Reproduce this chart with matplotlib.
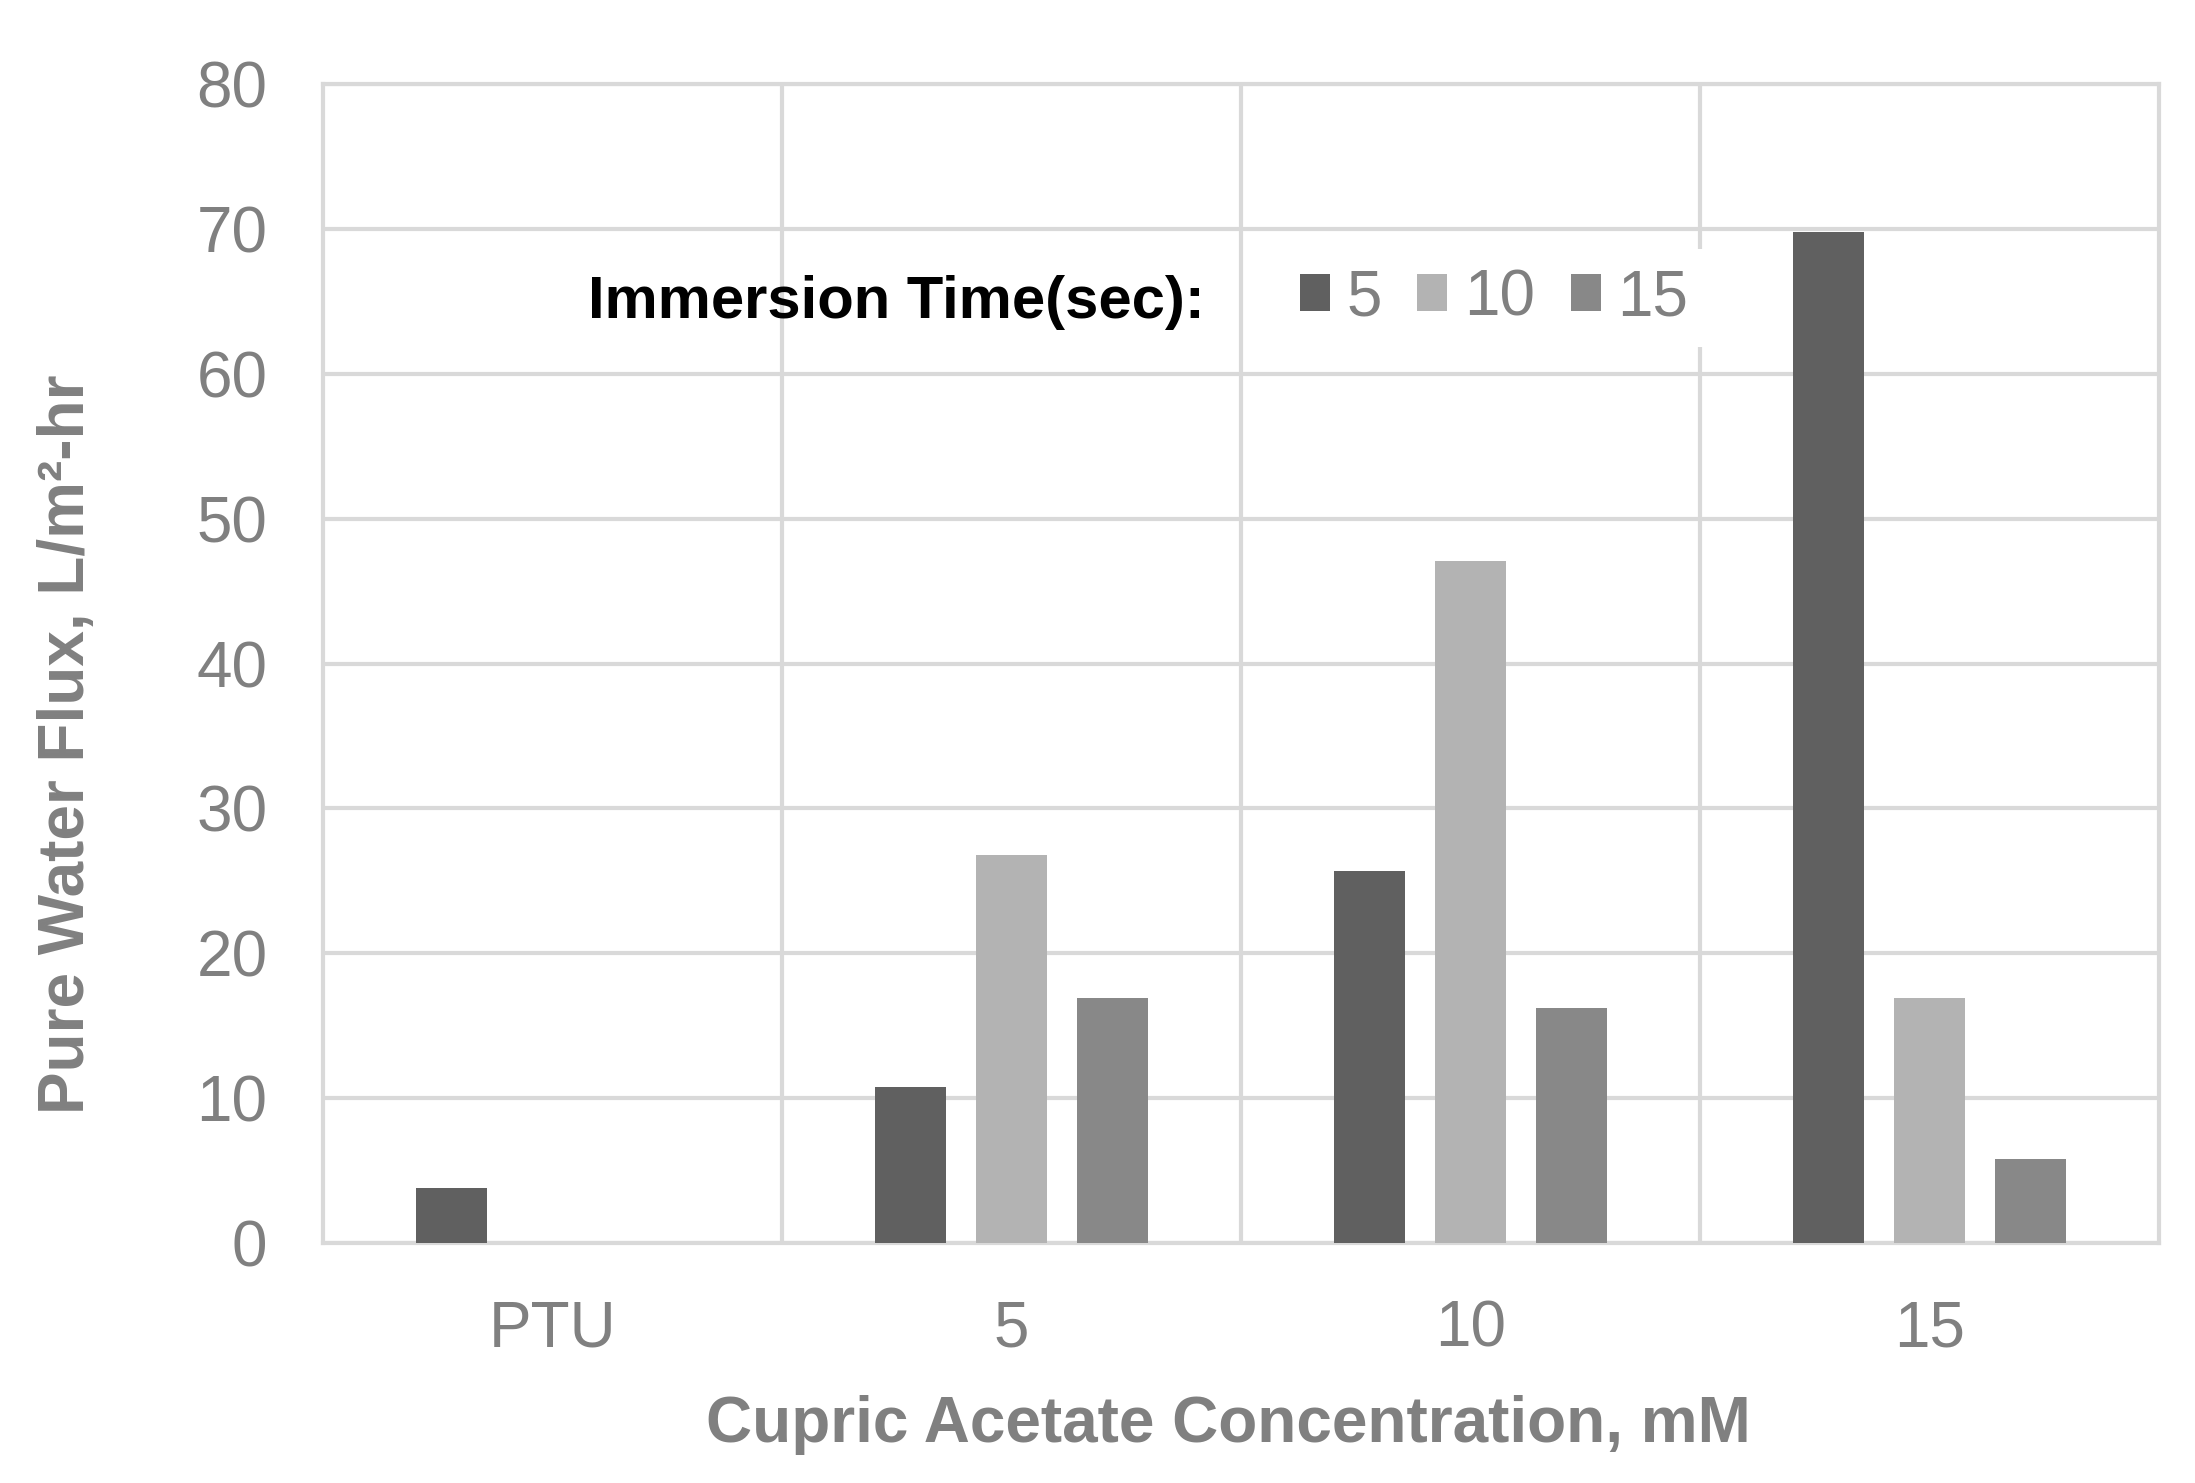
import matplotlib.pyplot as plt
import numpy as np

plt.rcParams['font.family'] = ['Liberation Sans', 'DejaVu Sans']

# valores
categorias = ['PTU', '5', '10', '15']
tempos = ['5', '10', '15']
fluxo_5s = [3.8, 10.8, 25.7, 69.8]
fluxo_10s = [np.nan, 26.8, 47.1, 16.9]
fluxo_15s = [np.nan, 16.9, 16.2, 5.8]

cores = ['#606060', '#b3b3b3', '#888888']
cinza_texto = '#808080'
cinza_grelha = '#d9d9d9'

fig = plt.figure(figsize=(21.95, 14.83), dpi=100)
ax = fig.add_axes([323 / 2195, 1 - 1243 / 1483, (2159 - 323) / 2195, (1243 - 84) / 1483])

x = np.arange(len(categorias))
largura = 0.153
desvio = 0.22
for i, (serie, cor, rot) in enumerate(zip([fluxo_5s, fluxo_10s, fluxo_15s], cores, tempos)):
    ax.bar(x + (i - 1) * desvio, serie, width=largura, color=cor, label=rot, zorder=3)

ax.set_xlim(-0.5, 3.5)
ax.set_ylim(0, 80)
ax.set_yticks(np.arange(0, 81, 10))
ax.set_xticks(x)
ax.set_xticklabels(categorias)

# grelha ao estilo Excel
ax.set_xticks([0.5, 1.5, 2.5], minor=True)
ax.grid(True, axis='y', which='major', color=cinza_grelha, linewidth=3, zorder=0)
ax.grid(True, axis='x', which='minor', color=cinza_grelha, linewidth=3, zorder=0)
ax.grid(False, axis='x', which='major')
for lado in ax.spines.values():
    lado.set_color(cinza_grelha)
    lado.set_linewidth(3)

ax.tick_params(axis='both', which='both', length=0, labelsize=46, labelcolor=cinza_texto)
ax.tick_params(axis='y', pad=40)
ax.tick_params(axis='x', pad=41)

fig.text(1228 / 2195, 1 - 1425 / 1483, 'Cupric Acetate Concentration, mM', ha='center', va='center',
         fontsize=46, fontweight='bold', color=cinza_texto)
fig.text(67 / 2195, 1 - 744 / 1483, 'Pure Water Flux, L/m²-hr', ha='center', va='center', rotation=90,
         fontsize=46, fontweight='bold', color=cinza_texto)

# legenda: título à parte, caixa branca por cima da grelha
fig.text(588 / 2195, 1 - 302 / 1483, 'Immersion Time(sec):', ha='left', va='center',
         fontsize=43, fontweight='bold', color='black')
leg = ax.legend(loc='center', bbox_to_anchor=(1494 / 2195, 1 - 298 / 1483), bbox_transform=fig.transFigure,
                ncol=3, fontsize=46, frameon=True, facecolor='white', edgecolor='none', framealpha=1,
                handlelength=0.47, handleheight=0.52, handletextpad=0.26, columnspacing=0.56,
                borderpad=0.3, fancybox=False)
for t in leg.get_texts():
    t.set_color(cinza_texto)

fig.savefig('out.png', dpi=100)
